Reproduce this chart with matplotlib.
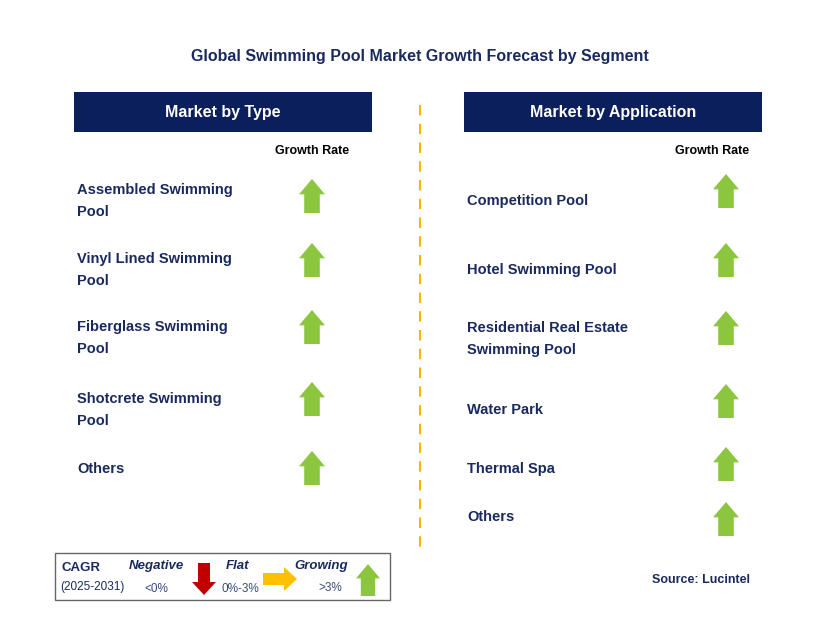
import matplotlib.pyplot as plt
from matplotlib.patches import Rectangle, FancyArrow

plt.rcParams["font.family"] = "Liberation Sans"

title = "Global Swimming Pool Market Growth Forecast by Segment"
type_labels = ["Assembled Swimming\nPool", "Vinyl Lined Swimming\nPool", "Fiberglass Swimming\nPool",
               "Shotcrete Swimming\nPool", "Others"]
type_y = [201, 270, 338, 410, 469]
type_arrow_y = [196, 260, 327, 399, 468]
app_labels = ["Competition Pool", "Hotel Swimming Pool", "Residential Real Estate\nSwimming Pool",
              "Water Park", "Thermal Spa", "Others"]
app_y = [201, 270, 339, 410, 469, 517]
app_arrow_y = [191, 260, 328, 401, 464, 519]

navy = "#0b1f5c"
green = "#8cc63f"
text_c = "#1a2a5e"

fig = plt.figure(figsize=(8.29, 6.28), dpi=100)
ax = fig.add_axes([0, 0, 1, 1])
ax.set_xlim(0, 829)
ax.set_ylim(628, 0)
ax.axis("off")


def up_arrow(x, y, color=green, w=26, h=34):
    ax.add_patch(FancyArrow(x, y + h / 2, 0, -h, width=w * 0.6, head_width=w, head_length=h * 0.45,
                            length_includes_head=True, color=color, lw=0))


ax.text(420, 57, title, ha="center", va="center", fontsize=11.5, color=text_c, fontweight="bold")

for x0, head in [(74, "Market by Type"), (464, "Market by Application")]:
    ax.add_patch(Rectangle((x0, 92), 298, 40, color=navy, lw=0))
    ax.text(x0 + 149, 112, head, ha="center", va="center", fontsize=11.5, color="white", fontweight="bold")

ax.text(312, 151, "Growth Rate", ha="center", va="center", fontsize=9, color="black", fontweight="bold")
ax.text(712, 151, "Growth Rate", ha="center", va="center", fontsize=9, color="black", fontweight="bold")

for lab, y, ay in zip(type_labels, type_y, type_arrow_y):
    ax.text(77, y, lab, ha="left", va="center", fontsize=10.5, color=text_c, fontweight="bold", linespacing=1.65)
    up_arrow(312, ay)

for lab, y, ay in zip(app_labels, app_y, app_arrow_y):
    ax.text(467, y, lab, ha="left", va="center", fontsize=10.5, color=text_c, fontweight="bold", linespacing=1.65)
    up_arrow(726, ay)

ax.plot([420, 420], [105, 548], color="#f5b800", lw=1.5, ls=(0, (5, 4)))

# legend box
ax.add_patch(Rectangle((55, 553), 335, 47, fill=False, ec="#666666", lw=1))
ax.text(62, 568, "CAGR", fontsize=9.5, color=text_c, fontweight="bold", va="center")
ax.text(60, 587, "(2025-2031)", fontsize=8.5, color=text_c, va="center")
ax.text(156, 566, "Negative", fontsize=9.5, color=text_c, fontweight="bold", style="italic", ha="center", va="center")
ax.text(156, 589, "<0%", fontsize=8.5, color="#3a4a7a", ha="center", va="center")
ax.add_patch(FancyArrow(204, 563, 0, 32, width=12, head_width=24, head_length=13,
                        length_includes_head=True, color="#c00000", lw=0))
ax.text(238, 566, "Flat", fontsize=9.5, color=text_c, fontweight="bold", style="italic", ha="center", va="center")
ax.text(240, 589, "0%-3%", fontsize=8.5, color="#3a4a7a", ha="center", va="center")
ax.add_patch(FancyArrow(263, 579, 34, 0, width=12, head_width=24, head_length=13,
                        length_includes_head=True, color="#ffc000", lw=0))
ax.text(321, 566, "Growing", fontsize=9.5, color=text_c, fontweight="bold", style="italic", ha="center", va="center")
ax.text(330, 588, ">3%", fontsize=8.5, color="#3a4a7a", ha="center", va="center")
up_arrow(368, 580, w=24, h=32)

ax.text(750, 580, "Source: Lucintel", fontsize=9, color=text_c, fontweight="bold", ha="right", va="center")

fig.savefig("out.png", dpi=100)
